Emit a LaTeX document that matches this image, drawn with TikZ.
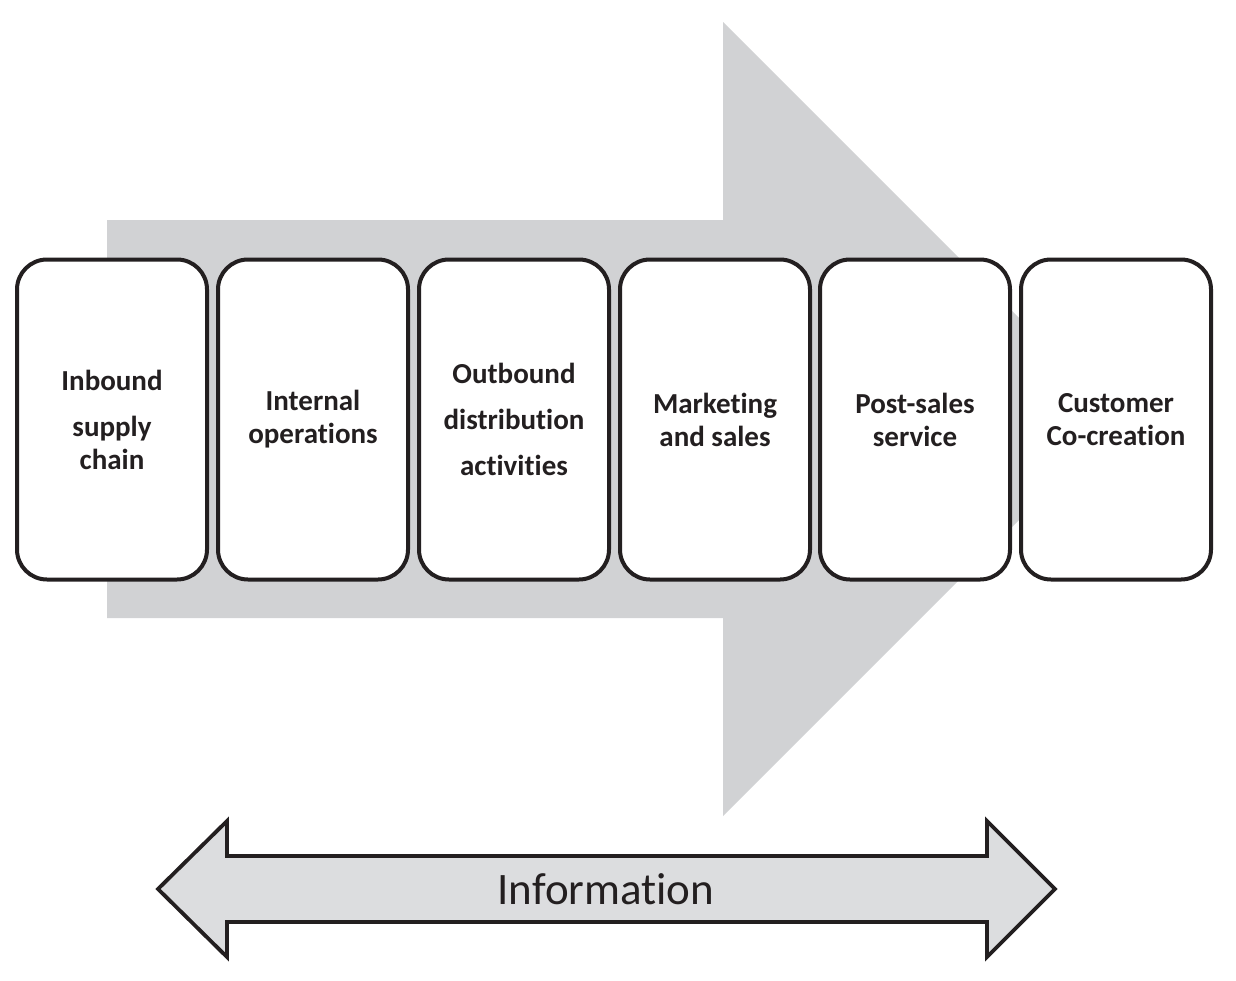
\documentclass[tikz,border=0pt]{standalone}
\usepackage{fontspec}
\setmainfont{Carlito}[Ligatures={NoCommon,NoRequired,NoContextual}]
\definecolor{txt}{HTML}{231F20}
\definecolor{biggrey}{HTML}{D1D2D4}
\definecolor{infogrey}{HTML}{DCDDDF}
\tikzset{
  stagebox/.style={draw=txt, line width=4pt, rounded corners=30pt, fill=white,
    minimum width=190pt, minimum height=320pt, inner sep=0pt,
    text=txt, align=center, font=\bfseries\fontsize{29}{33}\selectfont},
  flowarrow/.style={fill=biggrey, draw=none},
  infoarrow/.style={fill=infogrey, draw=txt, line width=3.8pt, line join=miter},
}
\begin{document}
\begin{tikzpicture}[x=1pt,y=-1pt]
\useasboundingbox (0,0) rectangle (1236,980);
% big background arrow
\fill[flowarrow] (107,220) -- (723,220) -- (723,22) -- (1120,419) -- (723,816) -- (723,618) -- (107,618) -- cycle;
% stage boxes
\node[stagebox] (b1) at (112,419.5) {Inbound\\[13pt]supply\\chain};
\node[stagebox] (b2) at (313,419.5) {Internal\\operations};
\node[stagebox] (b3) at (514,419.5) {Outbound\\[13pt]distribution\\[13pt]activities};
\node[stagebox] (b4) at (715,419.5) {Marketing\\and sales};
\node[stagebox] (b5) at (915,419.5) {Post-sales\\service};
\node[stagebox] (b6) at (1116,419.5) {Customer\\Co-creation};
% information double arrow
\draw[infoarrow] (158,889) -- (227,821) -- (227,856) -- (987,856) -- (987,821) -- (1055,889) -- (987,957) -- (987,922) -- (227,922) -- (227,957) -- cycle;
\node[text=txt, font=\fontsize{45}{50}\selectfont, inner sep=0pt] (info) at (606,889) {Information};
\end{tikzpicture}
\end{document}
